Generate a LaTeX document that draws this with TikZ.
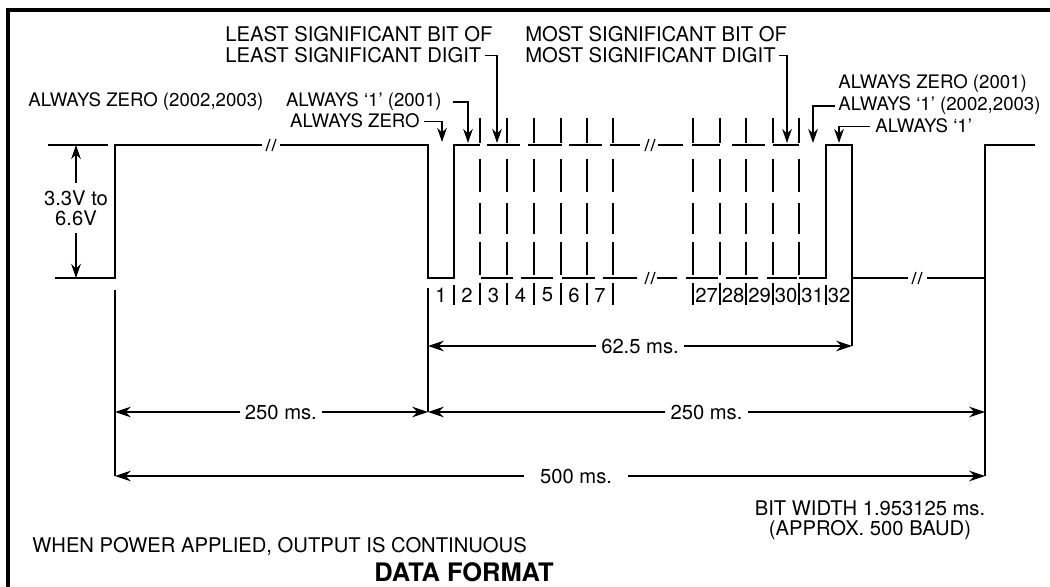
\documentclass[tikz,border=0pt]{standalone}
\usepackage{fontspec}
\setmainfont{TeX Gyre Heros}
\usetikzlibrary{arrows.meta}
\newcommand{\dgmfont}{\fontsize{11.5}{11.5}\selectfont}
\newcommand{\altfont}{\fontsize{10.6}{11.5}\selectfont}
\begin{document}
\begin{tikzpicture}[x=0.02cm,y=-0.02cm,
  wave/.style={line width=1.6pt, line join=miter, line cap=butt},
  thinline/.style={line width=0.7pt},
  dim/.style={thinline, {Stealth[length=9pt,width=6pt]}-{Stealth[length=9pt,width=6pt]}},
  call/.style={thinline, -{Stealth[length=8pt,width=5.5pt]}},
  lbl/.style={font=\dgmfont, inner sep=0pt},
  alw/.style={font=\altfont, inner sep=0pt},
  dimlbl/.style={font=\dgmfont, fill=white, inner xsep=3pt, inner ysep=1pt},
  brk/.pic={\draw[thinline] (-5,6) -- (-1,-6) (1,6) -- (5,-6);}
]
\useasboundingbox (0,0) rectangle (1050,587);
% frame
\draw[line width=2pt] (8,587) -- (8,10) -- (1050,10);

% waveform
\draw[wave] (55,278) -- (115,278) -- (115,145) -- (262,145);
\draw[wave] (280,145) -- (428,145) -- (428,278) -- (454,278) -- (454,145) -- (480,145);
\draw[wave] (799,278) -- (826,278) -- (826,145) -- (852,145) -- (852,278) -- (908,278);
\draw[wave] (927,278) -- (985,278) -- (985,145) -- (1035,145);
\pic at (271,145) {brk};
\pic at (650,145) {brk};
\pic at (650,278) {brk};
\pic at (917,278) {brk};

% dashed bit boundaries
\foreach \x in {480,507,534,561,587,613,693,720,746,773,799}
  \foreach \a/\b in {118/143,159/192,203/234,242/275,283/305}
    \draw[thinline] (\x,\a) -- (\x,\b);
\draw[thinline] (454,285) -- (454,305);
\draw[thinline] (826,285) -- (826,305);
\foreach \a/\b in {487/520,528/562,569/602,610/640,658/683,692/720,732/765,773/799}
  \draw[thinline] (\a,145) -- (\b,145);
\foreach \a/\b in {481/513,521/553,562/595,603/637,657/677,686/718,726/758,767/797}
  \draw[thinline] (\a,278) -- (\b,278);

% bit numbers
\foreach \n/\x in {1/441,2/467,3/493.5,4/520.5,5/547.5,6/574,7/600,27/706.5,28/733,29/759.5,30/786,31/812.5,32/839}
  \node[lbl] (n\n) at (\x,295) {\n};

% extension lines
\draw[thinline] (428,288) -- (428,412);
\draw[thinline] (852,278) -- (852,346);
\draw[thinline] (115,290) -- (115,476);
\draw[thinline] (985,278) -- (985,476);

% voltage
\draw[thinline] (48,145) -- (108,145);
\coordinate (vtop) at (76,145);
\coordinate (vbot) at (76,278);
\node[lbl, align=center] (volt) at (76,208) {3.3V to\\6.6V};
\draw[call] ([yshift=4pt]volt.north) -- (vtop);
\draw[call] ([yshift=-4pt]volt.south) -- (vbot);

% callouts
\node[lbl, anchor=base west] (lsb1) at (225,42) {LEAST SIGNIFICANT BIT OF};
\node[lbl, anchor=base west] (lsb2) at (225,63) {LEAST SIGNIFICANT DIGIT};
\coordinate (lsbtip) at (497,143);
\draw[call] ([xshift=2pt]lsb2.east) -| (lsbtip);

\node[lbl, anchor=base west] (msb1) at (525,42) {MOST SIGNIFICANT BIT OF};
\node[lbl, anchor=base west] (msb2) at (525,63) {MOST SIGNIFICANT DIGIT};
\coordinate (msbtip) at (787,143);
\draw[call] ([xshift=2pt]msb2.east) -| (msbtip);

\node[alw, anchor=base west] (az1) at (28,107) {ALWAYS ZERO (2002,2003)};
\node[alw, anchor=base east] (a1) at (442,107) {ALWAYS ‘1’ (2001)};
\coordinate (b2tip) at (468,143);
\draw[call] ([xshift=6pt]a1.east) -| (b2tip);

\node[alw, anchor=base east] (az2) at (420,128) {ALWAYS ZERO};
\coordinate (b1tip) at (442,142);
\draw[call] ([xshift=2pt]az2.east) -| (b1tip);

\node[alw, anchor=base west] (azr) at (838,89) {ALWAYS ZERO (2001)};
\node[alw, anchor=base west] (a1r) at (838,111) {ALWAYS ‘1’ (2002,2003)};
\coordinate (b31tip) at (813,143);
\draw[call] ([xshift=-2pt]a1r.west) -| (b31tip);
\node[alw, anchor=base west] (a1s) at (875,133) {ALWAYS ‘1’};
\coordinate (b32tip) at (839,143);
\draw[call] ([xshift=-3pt]a1s.west) -| (b32tip);

% dimensions
\coordinate (l62) at (428,346);
\coordinate (r62) at (852,346);
\coordinate (l250) at (115,412);
\coordinate (m250) at (428,412);
\coordinate (r250) at (985,412);
\coordinate (l500) at (115,476);
\coordinate (r500) at (985,476);
\draw[dim] (l62) -- node[dimlbl] {62.5 ms.} (r62);
\draw[dim] (l250) -- node[dimlbl, pos=0.53] {250 ms.} (m250);
\draw[dim] (m250) -- node[dimlbl] {250 ms.} (r250);
\draw[dim] (l500) -- node[dimlbl, pos=0.53, inner xsep=9pt] {500 ms.} (r500);

% bottom texts
\node[lbl, align=center] (bitw) at (870,520) {BIT WIDTH 1.953125 ms.\\(APPROX. 500 BAUD)};
\node[lbl, anchor=base west] (note) at (32,552) {WHEN POWER APPLIED, OUTPUT IS CONTINUOUS};
\node[font=\bfseries\fontsize{14.5}{14.5}\selectfont, inner sep=0pt] (title) at (464,572) {DATA FORMAT};
\end{tikzpicture}
\end{document}
